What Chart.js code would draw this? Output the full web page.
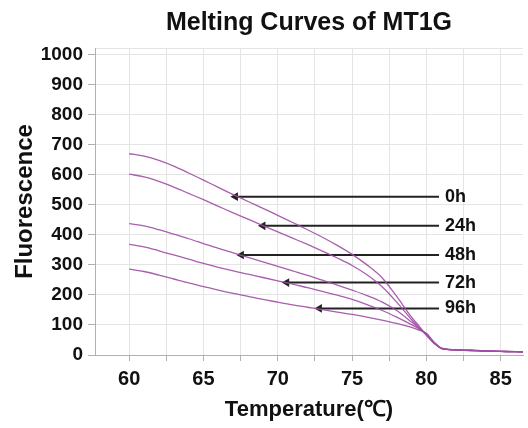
<!DOCTYPE html>
<html>
<head>
<meta charset="utf-8">
<script src="https://cdn.jsdelivr.net/npm/chart.js@4/dist/chart.umd.min.js"></script>
<style>
  html, body { margin: 0; padding: 0; background: #fff; }
</style>
</head>
<body>
<canvas id="melt" width="528" height="428"></canvas>
<script>
// temperature points (°C) shared by all curves
const temps = [60,61,62,63,64,65,66,67,68,69,70,71,72,73,74,75,76,77,78,79,79.5,80,80.5,81,81.5,82,83,84,85,86,86.5];
const f0h  = [670,662,648,629,606,582,558,534,511,488,465,441,417,392,365,335,300,258,195,126,97,66,40,23,19,17,16,14,12,11,10];
const f24h = [602,593,578,559,538,517,495,473,452,431,410,389,368,346,323,298,267,228,176,118,91,66,40,23,19,17,16,14,12,11,10];
const f48h = [437,430,417,402,387,371,355,340,325,310,295,280,265,249,233,216,198,177,148,110,90,68,41,22,18,17,15,13,12,11,10];
const f72h = [368,360,347,333,319,305,292,280,269,258,247,236,224,212,199,185,168,149,126,101,87,70,42,22,18,16,15,13,12,11,10];
const f96h = [286,278,266,253,240,228,216,205,195,185,176,167,159,151,143,135,126,116,105,92,83,72,44,22,18,16,15,13,12,11,10];

// arrow annotations
const arrowLabels = ['0h','24h','48h','72h','96h'];
const arrowTipX = [67.15, 69.0, 67.55, 70.6, 72.8];
const arrowY = [527, 430, 333, 241, 155];
const arrowEndX = 80.85;
const labelX = 81.25;

// axis ticks
const xTicks = [60,62.5,65,67.5,70,72.5,75,77.5,80,82.5,85];
const yTicks = [0,100,200,300,400,500,600,700,800,900,1000];

const FONT = "'Liberation Sans', Arial, sans-serif";
const curveColor = 'rgba(158,78,165,0.9)';
const gridColor = '#e4e4e4';
const axisColor = '#b0b0b0';

Chart.defaults.font.family = FONT;
Chart.defaults.color = '#111';

const pts = vals => temps.map((t, i) => ({ x: t, y: vals[i] }));

const curveSets = [f0h, f24h, f48h, f72h, f96h].map((v, i) => ({
  label: arrowLabels[i],
  data: pts(v),
  borderColor: curveColor,
  borderWidth: 1.3,
  pointRadius: 0,
  cubicInterpolationMode: 'monotone',
  fill: false
}));

const arrowSets = arrowLabels.map((l, i) => ({
  label: 'arrow ' + l,
  data: [{ x: arrowTipX[i], y: arrowY[i] }, { x: arrowEndX, y: arrowY[i] }],
  borderColor: '#222',
  backgroundColor: '#222',
  borderWidth: 2,
  pointStyle: 'triangle',
  pointRadius: [5, 0],
  pointRotation: [-90, 0],
  pointBorderWidth: 0,
  fill: false
}));

const arrowText = {
  id: 'arrowText',
  afterDatasetsDraw(chart) {
    const { ctx, scales: { x, y } } = chart;
    ctx.save();
    ctx.font = 'bold 18px ' + FONT;
    ctx.fillStyle = '#111';
    ctx.textBaseline = 'middle';
    ctx.textAlign = 'left';
    arrowLabels.forEach((l, i) => {
      ctx.fillText(l, x.getPixelForValue(labelX), y.getPixelForValue(arrowY[i]));
    });
    ctx.restore();
  }
};

new Chart(document.getElementById('melt'), {
  type: 'line',
  data: { datasets: [...curveSets, ...arrowSets] },
  plugins: [arrowText],
  options: {
    responsive: false,
    animation: false,
    devicePixelRatio: 1,
    layout: { padding: 0 },
    plugins: {
      legend: { display: false },
      tooltip: { enabled: false },
      title: {
        display: true,
        text: 'Melting Curves of MT1G',
        fullSize: false,
        color: '#111',
        font: { size: 25, weight: 'bold' },
        padding: { top: 8, bottom: 10 }
      }
    },
    scales: {
      x: {
        type: 'linear',
        min: 57.7,
        max: 86.5,
        afterBuildTicks: s => { s.ticks = xTicks.map(v => ({ value: v })); },
        afterFit: s => { s.height = 73; },
        ticks: {
          autoSkip: false,
          maxRotation: 0,
          padding: 6,
          font: { size: 20, weight: 'bold' },
          callback: v => (v % 5 === 0 ? v : '')
        },
        grid: { color: gridColor, tickColor: axisColor, tickLength: 6 },
        border: { color: axisColor },
        title: {
          display: true,
          text: 'Temperature(℃)',
          font: { size: 22, weight: 'bold' },
          padding: { top: 4, bottom: 5 }
        }
      },
      y: {
        min: 0,
        max: 1022,
        afterBuildTicks: s => { s.ticks = [...yTicks, 1022].map(v => ({ value: v })); },
        afterFit: s => { s.width = 95; },
        ticks: {
          padding: 5,
          font: { size: 19, weight: 'bold' },
          callback: v => (v > 1000 ? '' : v)
        },
        grid: {
          color: gridColor,
          tickLength: 7,
          tickColor: c => (c.tick && c.tick.value > 1000 ? 'rgba(0,0,0,0)' : axisColor)
        },
        border: { color: axisColor },
        title: {
          display: true,
          text: 'Fluorescence',
          font: { size: 24, weight: 'bold' },
          padding: { top: 11, bottom: 0 }
        }
      }
    }
  }
});
</script>
</body>
</html>
